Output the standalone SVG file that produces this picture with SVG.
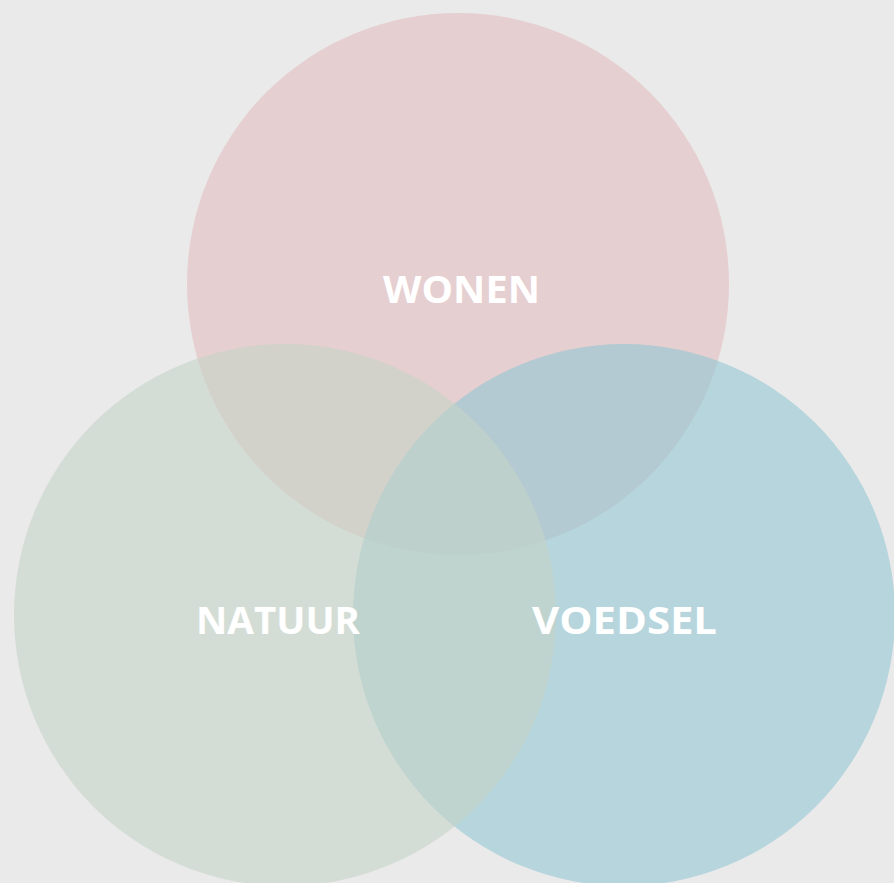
<svg xmlns="http://www.w3.org/2000/svg" width="894" height="883" viewBox="0 0 894 883">
<style>
.c{fill-opacity:0.6}
.t{font-family:"Open Sans","Liberation Sans",sans-serif;font-weight:700;font-size:37px;fill:#ffffff;text-anchor:middle}
</style>
<rect x="0" y="0" width="894" height="883" fill="#eaeaea"/>
<g id="wonen"><circle class="c" cx="458" cy="284" r="271" fill="#e2bdbf"/></g>
<g id="voedsel"><circle class="c" cx="624" cy="615" r="271" fill="#92c7d3"/></g>
<g id="natuur"><circle class="c" cx="285" cy="615" r="271" fill="#c4d4c7"/></g>
<g id="labels">
<text class="t" x="461.5" y="303" textLength="157" lengthAdjust="spacingAndGlyphs">WONEN</text>
<text class="t" x="278" y="634" textLength="164" lengthAdjust="spacingAndGlyphs">NATUUR</text>
<text class="t" x="624.5" y="634" textLength="185" lengthAdjust="spacingAndGlyphs">VOEDSEL</text>
</g>
<g id="connectors"></g>
</svg>
